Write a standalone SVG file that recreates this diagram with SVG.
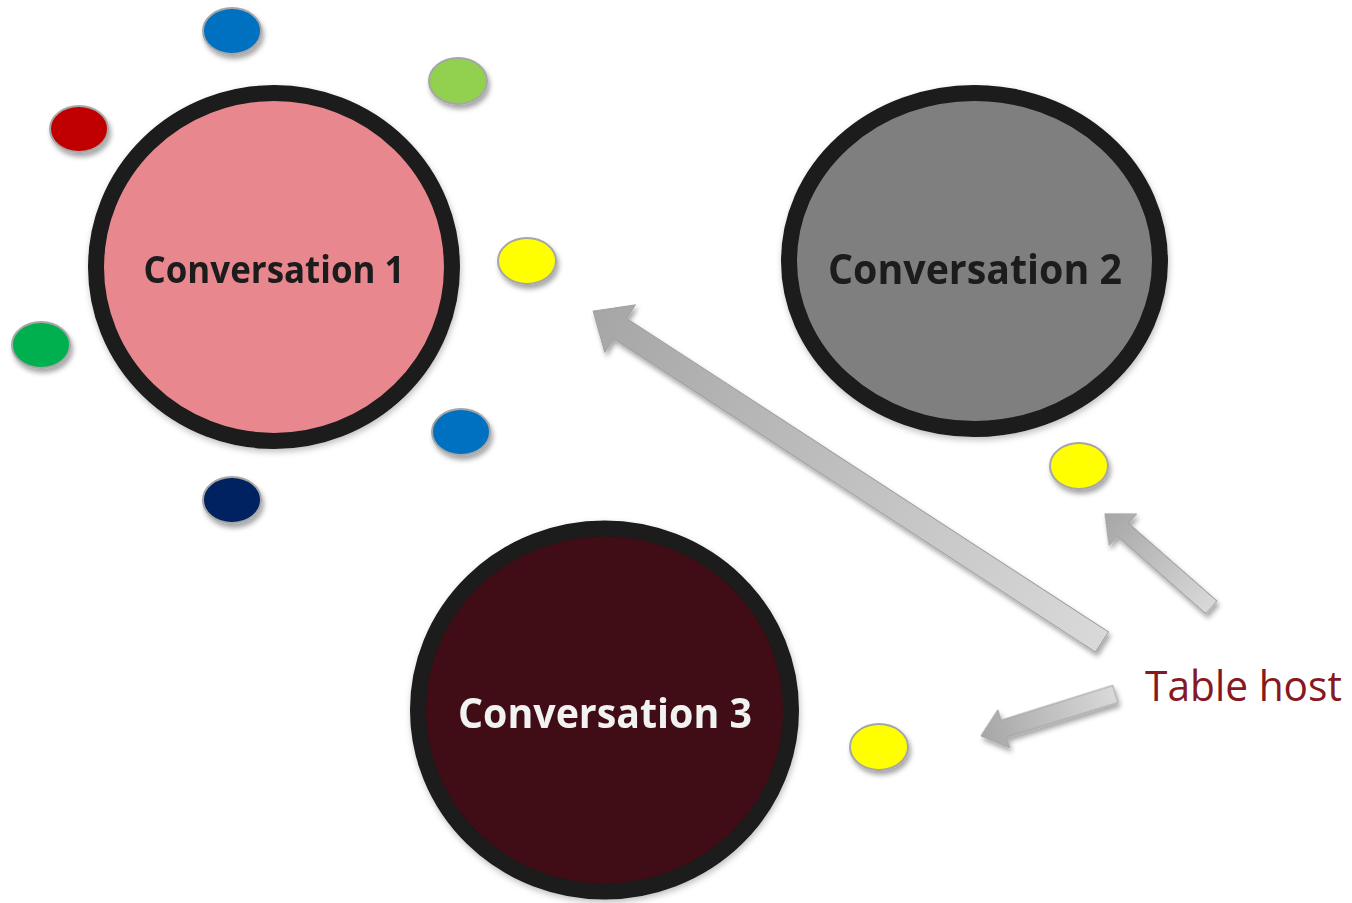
<svg xmlns="http://www.w3.org/2000/svg" width="1352" height="903" viewBox="0 0 1352 903">
  <style>
    .table { stroke: #1a1a1a; stroke-width: 16; }
    .guest { stroke: #a6a6a6; stroke-width: 2; }
    .label { font-family: "Open Sans", "Liberation Sans", sans-serif; font-weight: bold; text-anchor: middle; }
    .host { font-family: "Open Sans", "Liberation Sans", sans-serif; fill: #861821; }
    .arrow { stroke: #a0a0a0; stroke-width: 1; }
  </style>
  <defs>
    <filter id="shadow" x="-20%" y="-20%" width="150%" height="150%">
      <feDropShadow dx="2" dy="4" stdDeviation="2.5" flood-color="#000" flood-opacity="0.35"/>
    </filter>
    <filter id="softShadow" x="-10%" y="-10%" width="130%" height="130%">
      <feDropShadow dx="1" dy="3" stdDeviation="3" flood-color="#000" flood-opacity="0.25"/>
    </filter>
    <linearGradient id="arrowFill" x1="0" y1="0" x2="1" y2="0">
      <stop offset="0" stop-color="#d9d9d9"/>
      <stop offset="1" stop-color="#a6a6a6"/>
    </linearGradient>
  </defs>

  <rect width="1352" height="903" fill="#ffffff"/>

  <!-- tables -->
  <g id="conversation1" filter="url(#softShadow)">
    <ellipse class="table" cx="274" cy="267" rx="178" ry="174" fill="#e8888e"/>
    <text class="label" x="274" y="283" font-size="38" fill="#1a1a1a" textLength="261" lengthAdjust="spacingAndGlyphs">Conversation 1</text>
  </g>
  <g id="conversation2" filter="url(#softShadow)">
    <ellipse class="table" cx="974.5" cy="261" rx="185.5" ry="168" fill="#7f7f7f"/>
    <text class="label" x="975" y="284" font-size="42" fill="#1a1a1a" textLength="294" lengthAdjust="spacingAndGlyphs">Conversation 2</text>
  </g>
  <g id="conversation3" filter="url(#softShadow)">
    <ellipse class="table" cx="604.5" cy="710" rx="186.5" ry="181.5" fill="#3f0f12"/>
    <text class="label" x="605" y="728" font-size="42" fill="#f2f2f2" textLength="294" lengthAdjust="spacingAndGlyphs">Conversation 3</text>
  </g>

  <!-- guests -->
  <g id="guests" filter="url(#shadow)">
    <ellipse id="guest-blue-top" class="guest" cx="232" cy="31" rx="29" ry="23" fill="#0070c0"/>
    <ellipse id="guest-lime" class="guest" cx="458" cy="81" rx="29" ry="23" fill="#92d050"/>
    <ellipse id="guest-red" class="guest" cx="79" cy="129" rx="29" ry="23" fill="#c00000"/>
    <ellipse id="guest-yellow-1" class="guest" cx="527" cy="261" rx="29" ry="23" fill="#ffff00"/>
    <ellipse id="guest-green" class="guest" cx="41" cy="345" rx="29" ry="23" fill="#00b050"/>
    <ellipse id="guest-blue" class="guest" cx="461" cy="432" rx="29" ry="23" fill="#0070c0"/>
    <ellipse id="guest-navy" class="guest" cx="232" cy="500" rx="29" ry="23" fill="#002060"/>
    <ellipse id="guest-yellow-2" class="guest" cx="1079" cy="466" rx="29" ry="23" fill="#ffff00"/>
    <ellipse id="guest-yellow-3" class="guest" cx="879" cy="747" rx="29" ry="23" fill="#ffff00"/>
  </g>

  <!-- host label -->
  <g id="table-host">
    <text class="host" x="1145" y="701" font-size="42" textLength="197" lengthAdjust="spacingAndGlyphs">Table host</text>
  </g>

  <!-- block arrows from the host -->
  <g id="connectors" filter="url(#shadow)">
    <path class="arrow" fill="url(#arrowFill)" transform="translate(1102,642) rotate(213.04)"
          d="M0,-12 L575,-12 L575,-28 L607,0 L575,28 L575,12 L0,12 Z"/>
    <path class="arrow" fill="url(#arrowFill)" transform="translate(1211.5,607.5) rotate(221.3)"
          d="M0,-8.5 L118,-8.5 L118,-21 L142,0 L118,21 L118,8.5 L0,8.5 Z"/>
    <path class="arrow" fill="url(#arrowFill)" transform="translate(1115.5,694) rotate(162.7)"
          d="M0,-9 L117,-9 L117,-20 L141,0 L117,20 L117,9 L0,9 Z"/>
  </g>
</svg>
